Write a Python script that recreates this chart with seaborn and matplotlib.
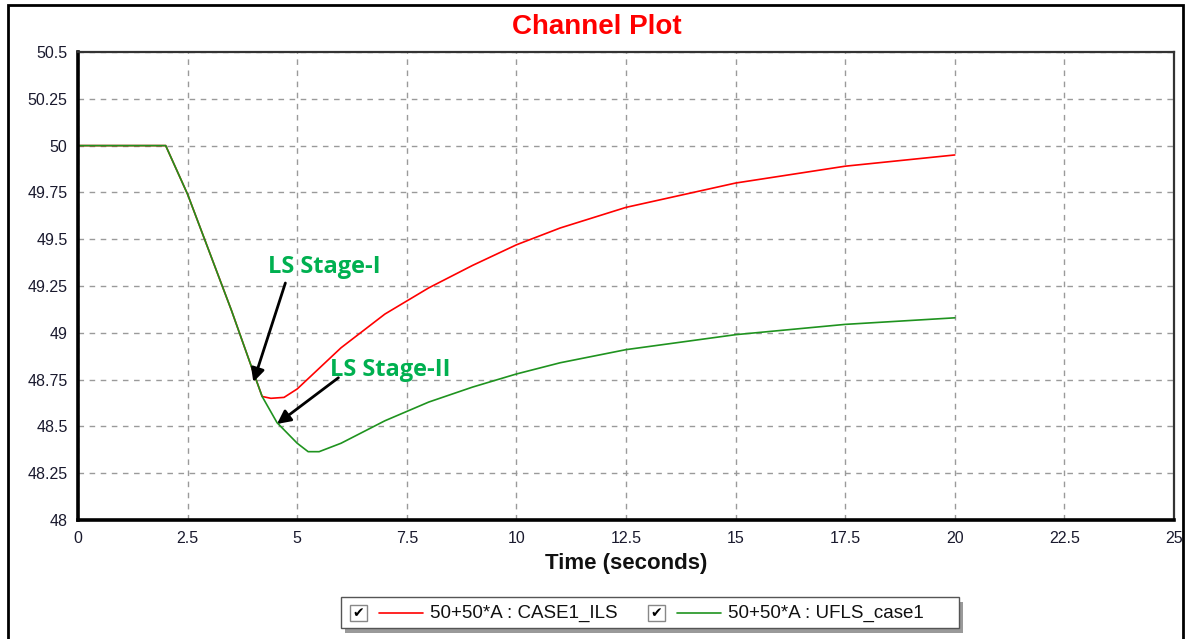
"""Channel plot: frequency response of two load-shedding cases."""
import matplotlib
matplotlib.use("Agg")
import matplotlib.pyplot as plt
from matplotlib.patches import Rectangle
from matplotlib.lines import Line2D
from matplotlib.ticker import MultipleLocator, AutoMinorLocator, FuncFormatter
import pandas as pd
import seaborn as sns

# ---- data ----
time_common = [0.0, 2.0, 2.5, 3.0, 3.5, 4.0, 4.2]
freq_common = [50.0, 50.0, 49.74, 49.43, 49.12, 48.79, 48.66]

time_ils = [4.4, 4.7, 5.0, 5.5, 6.0, 7.0, 7.5, 8.0, 9.0, 10.0, 11.0, 12.5,
            15.0, 17.5, 20.0]
freq_ils = [48.65, 48.655, 48.70, 48.81, 48.92, 49.10, 49.17, 49.24, 49.36,
            49.47, 49.56, 49.67, 49.80, 49.89, 49.95]

time_ufls = [4.54, 5.0, 5.25, 5.5, 6.0, 6.5, 7.0, 7.5, 8.0, 9.0, 10.0, 11.0,
             12.5, 15.0, 17.5, 20.0]
freq_ufls = [48.52, 48.41, 48.365, 48.365, 48.41, 48.47, 48.53, 48.58, 48.63,
             48.71, 48.78, 48.84, 48.91, 48.99, 49.045, 49.08]

case_names = ["50+50*A : CASE1_ILS", "50+50*A : UFLS_case1"]
case_colors = ["#ff0000", "#1f931f"]
x_ticks = [0, 2.5, 5, 7.5, 10, 12.5, 15, 17.5, 20, 22.5, 25]
y_ticks = [48, 48.25, 48.5, 48.75, 49, 49.25, 49.5, 49.75, 50, 50.25, 50.5]

df = pd.concat([
    pd.DataFrame({"time": time_common + time_ils,
                  "freq": freq_common + freq_ils, "case": case_names[0]}),
    pd.DataFrame({"time": time_common + time_ufls,
                  "freq": freq_common + freq_ufls, "case": case_names[1]}),
])

sns.set_theme(style="white")
plt.rcParams["font.family"] = ["Liberation Sans", "DejaVu Sans"]

W, H = 1185, 639
fig = plt.figure(figsize=(W / 100, H / 100), dpi=100)
ax = fig.add_axes([78 / W, 1 - 520 / H, 1096 / W, 468 / H])

sns.lineplot(data=df, x="time", y="freq", hue="case",
             palette=dict(zip(case_names, case_colors)),
             sort=False, estimator=None, linewidth=1.2, legend=False, ax=ax)

ax.set_xlim(0, 25)
ax.set_ylim(48, 50.5)
ax.set_xticks(x_ticks)
ax.set_yticks(y_ticks)
ax.xaxis.set_minor_locator(MultipleLocator(0.5))
ax.yaxis.set_minor_locator(AutoMinorLocator(4))
fmt = FuncFormatter(lambda v, p: f"{v:g}")
ax.xaxis.set_major_formatter(fmt)
ax.yaxis.set_major_formatter(fmt)
ax.tick_params(axis="both", which="major", direction="out", length=4,
               width=1, colors="#222222", labelsize=11.5, labelcolor="#1a1a2e")
ax.tick_params(axis="both", which="minor", direction="out", length=2.5,
               width=0.8, colors="#444444")
ax.tick_params(axis="x", pad=4)

ax.grid(True, which="major", linestyle=(0, (4, 4)), color="#9a9a9a",
        linewidth=1.0)
ax.set_axisbelow(True)
for side in ("left", "bottom"):
    ax.spines[side].set_linewidth(2.6)
    ax.spines[side].set_color("black")
for side in ("top", "right"):
    ax.spines[side].set_linewidth(1.6)
    ax.spines[side].set_color("#333333")

ax.set_xlabel("Time (seconds)", fontsize=16, fontweight="bold",
              labelpad=5, color="#111111")
ax.set_ylabel("")

# ---- annotations ----
green_txt = "#00b050"
ax.text(5.62, 49.35, "LS Stage-I", color=green_txt, fontsize=17,
        fontweight="bold", ha="center", va="center",
        family=["Open Sans", "DejaVu Sans"])
ax.text(7.12, 48.80, "LS Stage-II", color=green_txt, fontsize=17,
        fontweight="bold", ha="center", va="center",
        family=["Open Sans", "DejaVu Sans"])
arrow_kw = dict(arrowstyle="-|>", color="black", lw=2, mutation_scale=20,
                shrinkA=0, shrinkB=0)
ax.annotate("", xy=(4.0, 48.737), xytext=(4.73, 49.266), arrowprops=arrow_kw)
ax.annotate("", xy=(4.54, 48.513), xytext=(5.94, 48.76), arrowprops=arrow_kw)

# ---- title and outer frame ----
fig.text(597 / W, 1 - 27 / H, "Channel Plot", color="#ff0000", fontsize=20,
         fontweight="bold", ha="center", va="center")
fig.add_artist(Rectangle((8 / W, -0.05), 1175 / W, 1.05 - 5 / H,
                         transform=fig.transFigure, fill=False,
                         edgecolor="black", linewidth=2))

# ---- legend box (drawn like the original control) ----
lg = fig.add_axes([0, 0, 1, 1], facecolor="none")
lg.set_xlim(0, W)
lg.set_ylim(H, 0)
lg.axis("off")
lg.add_patch(Rectangle((345, 602), 618, 31, facecolor="#9a9a9a",
                       edgecolor="none"))
lg.add_patch(Rectangle((341, 597), 618, 31, facecolor="white",
                       edgecolor="#555555", linewidth=1))
for bx, lx, color, name in [(350, 379, case_colors[0], case_names[0]),
                            (648, 677, case_colors[1], case_names[1])]:
    lg.add_patch(Rectangle((bx, 605), 17, 16, facecolor="white",
                           edgecolor="#888888", linewidth=1))
    lg.text(bx + 8.5, 613.5, "\u2714", fontsize=10, ha="center", va="center",
            color="black", family=["DejaVu Sans"])
    lg.add_line(Line2D([lx, lx + 44], [613, 613], color=color, linewidth=1.2))
    lg.text(lx + 51, 613, name, fontsize=13.5, ha="left", va="center",
            color="#111111")

fig.savefig("out.png", dpi=100)
